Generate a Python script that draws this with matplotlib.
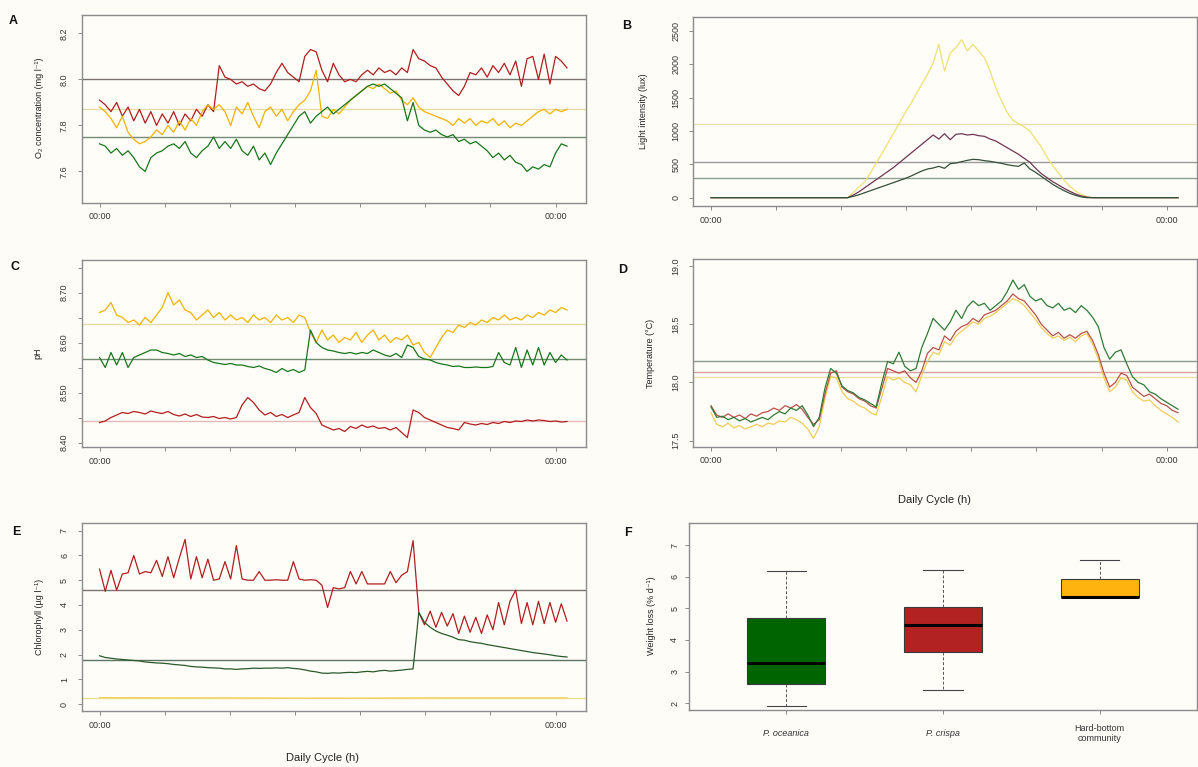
import numpy as np
import matplotlib
matplotlib.use("Agg")
import matplotlib.pyplot as plt

plt.rcParams['font.family'] = ['Liberation Sans', 'DejaVu Sans']

# sampling times (h) shared by the logger series
hours = np.round(np.arange(83) * 0.3, 1)

# A: dissolved oxygen (mg l-1)
o2_crispa = [7.91, 7.89, 7.86, 7.90, 7.84, 7.88, 7.82, 7.87, 7.81, 7.86, 7.80, 7.85, 7.81, 7.86, 7.80, 7.85,
             7.82, 7.87, 7.84, 7.89, 7.86, 8.06, 8.01, 8.00, 7.98, 7.99, 7.97, 7.98, 7.96, 7.95, 7.98, 8.03,
             8.07, 8.03, 8.01, 7.99, 8.10, 8.13, 8.12, 8.04, 7.99, 8.07, 8.02, 7.99, 8.00, 7.99, 8.02, 8.04,
             8.02, 8.05, 8.03, 8.04, 8.02, 8.05, 8.03, 8.13, 8.09, 8.08, 8.06, 8.05, 8.01, 7.98, 7.95, 7.93,
             7.97, 8.03, 8.02, 8.05, 8.01, 8.06, 8.03, 8.07, 8.02, 8.08, 7.97, 8.09, 8.10, 8.00, 8.11, 7.98,
             8.10, 8.08, 8.05]
o2_hard = [7.88, 7.86, 7.83, 7.79, 7.84, 7.77, 7.74, 7.72, 7.73, 7.75, 7.78, 7.76, 7.80, 7.77, 7.82, 7.78,
           7.83, 7.80, 7.86, 7.89, 7.87, 7.89, 7.86, 7.80, 7.88, 7.85, 7.90, 7.84, 7.79, 7.86, 7.88, 7.84,
           7.87, 7.82, 7.86, 7.89, 7.91, 7.95, 8.04, 7.84, 7.83, 7.87, 7.85, 7.88, 7.91, 7.93, 7.95, 7.97,
           7.96, 7.98, 7.96, 7.94, 7.95, 7.91, 7.89, 7.92, 7.88, 7.86, 7.85, 7.84, 7.83, 7.82, 7.80, 7.83,
           7.81, 7.83, 7.80, 7.82, 7.81, 7.83, 7.80, 7.82, 7.79, 7.81, 7.80, 7.82, 7.84, 7.86, 7.87, 7.85,
           7.87, 7.86, 7.87]
o2_oceanica = [7.72, 7.71, 7.68, 7.70, 7.67, 7.69, 7.66, 7.62, 7.60, 7.66, 7.68, 7.69, 7.71, 7.72, 7.70, 7.73,
               7.68, 7.66, 7.69, 7.71, 7.75, 7.70, 7.73, 7.70, 7.74, 7.69, 7.67, 7.71, 7.65, 7.68, 7.63, 7.68,
               7.72, 7.76, 7.80, 7.84, 7.86, 7.81, 7.84, 7.86, 7.88, 7.85, 7.87, 7.89, 7.91, 7.93, 7.95, 7.97,
               7.98, 7.97, 7.98, 7.96, 7.94, 7.92, 7.82, 7.90, 7.80, 7.78, 7.77, 7.78, 7.76, 7.75, 7.76, 7.73,
               7.74, 7.72, 7.73, 7.71, 7.69, 7.66, 7.68, 7.65, 7.67, 7.64, 7.63, 7.60, 7.62, 7.61, 7.63, 7.62,
               7.68, 7.72, 7.71]
o2_means = [8.00, 7.87, 7.75]

# B: light intensity (lux)
lux_hard = [0] * 25 + [80, 160, 240, 370, 520, 660, 810, 960, 1110, 1260, 1400, 1550, 1700, 1850, 2020, 2300,
                       1900, 2170, 2250, 2370, 2200, 2300, 2200, 2100, 1900, 1650, 1450, 1280, 1160, 1110, 1060,
                       1000, 880, 760, 610, 480, 370, 260, 170, 100, 50, 15] + [0] * 16
lux_crispa = [0] * 25 + [40, 90, 150, 210, 270, 330, 390, 450, 520, 590, 660, 730, 800, 870, 940, 880, 960, 870,
                         950, 960, 940, 950, 930, 920, 880, 850, 800, 750, 700, 650, 590, 530, 440, 360, 300,
                         240, 190, 140, 95, 55, 25, 8] + [0] * 16
lux_oceanica = [0] * 25 + [20, 45, 75, 105, 135, 165, 195, 225, 255, 285, 320, 360, 400, 430, 445, 470, 440, 510,
                           520, 540, 560, 575, 570, 555, 545, 530, 515, 495, 480, 470, 520, 430, 380, 320, 260,
                           200, 150, 105, 65, 35, 12] + [0] * 17
lux_means = [1105, 535, 300]

# C: pH
ph_hard = [8.660, 8.665, 8.680, 8.655, 8.650, 8.640, 8.645, 8.635, 8.650, 8.640, 8.655, 8.670, 8.700, 8.675,
           8.685, 8.665, 8.660, 8.645, 8.655, 8.665, 8.650, 8.660, 8.645, 8.655, 8.645, 8.650, 8.640, 8.655,
           8.645, 8.650, 8.640, 8.655, 8.645, 8.650, 8.640, 8.655, 8.650, 8.620, 8.600, 8.625, 8.605, 8.615,
           8.600, 8.610, 8.605, 8.620, 8.600, 8.615, 8.625, 8.605, 8.615, 8.600, 8.610, 8.605, 8.615, 8.595,
           8.600, 8.580, 8.570, 8.590, 8.610, 8.625, 8.620, 8.635, 8.630, 8.640, 8.635, 8.645, 8.640, 8.650,
           8.645, 8.655, 8.645, 8.650, 8.645, 8.655, 8.650, 8.660, 8.655, 8.665, 8.660, 8.670, 8.665]
ph_oceanica = [8.570, 8.550, 8.580, 8.555, 8.580, 8.550, 8.570, 8.575, 8.580, 8.585, 8.585, 8.580, 8.578, 8.575,
               8.578, 8.572, 8.575, 8.570, 8.572, 8.565, 8.560, 8.558, 8.556, 8.558, 8.555, 8.555, 8.552, 8.550,
               8.553, 8.548, 8.545, 8.540, 8.548, 8.542, 8.546, 8.540, 8.545, 8.625, 8.600, 8.590, 8.585, 8.583,
               8.580, 8.578, 8.580, 8.577, 8.580, 8.578, 8.585, 8.580, 8.575, 8.572, 8.578, 8.570, 8.595, 8.590,
               8.572, 8.567, 8.565, 8.560, 8.557, 8.555, 8.552, 8.553, 8.550, 8.550, 8.551, 8.550, 8.550, 8.552,
               8.580, 8.560, 8.555, 8.590, 8.550, 8.585, 8.555, 8.590, 8.555, 8.580, 8.560, 8.575, 8.565]
ph_crispa = [8.440, 8.443, 8.450, 8.455, 8.460, 8.458, 8.462, 8.460, 8.457, 8.463, 8.460, 8.458, 8.462, 8.456,
             8.453, 8.457, 8.452, 8.456, 8.451, 8.450, 8.452, 8.448, 8.450, 8.447, 8.450, 8.475, 8.490, 8.480,
             8.465, 8.455, 8.460, 8.452, 8.456, 8.450, 8.455, 8.460, 8.490, 8.470, 8.458, 8.435, 8.430, 8.425,
             8.428, 8.422, 8.432, 8.428, 8.435, 8.430, 8.433, 8.428, 8.430, 8.425, 8.430, 8.420, 8.410, 8.465,
             8.460, 8.450, 8.445, 8.440, 8.435, 8.430, 8.428, 8.425, 8.440, 8.437, 8.435, 8.438, 8.436, 8.440,
             8.438, 8.442, 8.440, 8.443, 8.442, 8.445, 8.443, 8.445, 8.444, 8.442, 8.443, 8.441, 8.442]
ph_means = [8.443, 8.638, 8.568]

# D: temperature (deg C)
temp_crispa = [17.80, 17.72, 17.70, 17.73, 17.70, 17.72, 17.69, 17.73, 17.71, 17.74, 17.75, 17.78, 17.76, 17.80,
               17.78, 17.81, 17.77, 17.70, 17.64, 17.68, 17.90, 18.08, 18.10, 17.96, 17.92, 17.90, 17.86, 17.84,
               17.80, 17.78, 17.95, 18.12, 18.10, 18.08, 18.10, 18.04, 18.00, 18.10, 18.25, 18.30, 18.28, 18.40,
               18.36, 18.44, 18.48, 18.50, 18.55, 18.52, 18.58, 18.60, 18.62, 18.66, 18.70, 18.76, 18.72, 18.70,
               18.64, 18.58, 18.50, 18.45, 18.40, 18.43, 18.38, 18.41, 18.38, 18.42, 18.44, 18.36, 18.24, 18.08,
               17.96, 18.00, 18.08, 18.06, 17.96, 17.92, 17.88, 17.90, 17.86, 17.82, 17.80, 17.76, 17.74]
temp_oceanica = [17.79, 17.70, 17.71, 17.68, 17.70, 17.67, 17.69, 17.66, 17.68, 17.70, 17.68, 17.72, 17.75, 17.73,
                 17.78, 17.76, 17.80, 17.72, 17.62, 17.70, 17.95, 18.12, 18.08, 17.97, 17.93, 17.91, 17.87, 17.85,
                 17.82, 17.79, 18.00, 18.18, 18.16, 18.26, 18.14, 18.10, 18.12, 18.30, 18.42, 18.55, 18.50, 18.45,
                 18.52, 18.62, 18.55, 18.65, 18.70, 18.66, 18.68, 18.62, 18.66, 18.70, 18.78, 18.88, 18.80, 18.84,
                 18.74, 18.70, 18.72, 18.66, 18.64, 18.68, 18.62, 18.64, 18.60, 18.66, 18.62, 18.56, 18.48, 18.30,
                 18.20, 18.26, 18.28, 18.16, 18.05, 18.00, 17.98, 17.92, 17.90, 17.86, 17.83, 17.80, 17.77]
temp_hard = [17.74, 17.64, 17.62, 17.65, 17.61, 17.63, 17.60, 17.62, 17.64, 17.62, 17.65, 17.64, 17.67, 17.66,
             17.70, 17.68, 17.65, 17.60, 17.52, 17.62, 17.86, 18.05, 18.04, 17.92, 17.86, 17.84, 17.80, 17.78,
             17.74, 17.72, 17.88, 18.05, 18.02, 18.04, 18.00, 17.98, 17.92, 18.06, 18.18, 18.26, 18.24, 18.35,
             18.32, 18.40, 18.44, 18.48, 18.52, 18.50, 18.55, 18.57, 18.60, 18.64, 18.68, 18.72, 18.70, 18.66,
             18.60, 18.54, 18.47, 18.42, 18.38, 18.40, 18.36, 18.39, 18.35, 18.40, 18.42, 18.33, 18.20, 18.04,
             17.92, 17.96, 18.04, 18.02, 17.92, 17.87, 17.84, 17.85, 17.80, 17.76, 17.73, 17.70, 17.66]
temp_means = [18.086, 18.05, 18.186]

# E: chlorophyll (ug l-1)
chl_crispa = [5.45, 4.55, 5.40, 4.60, 5.25, 5.30, 6.00, 5.25, 5.35, 5.30, 5.80, 5.15, 5.95, 5.10, 5.90, 6.65,
              5.05, 5.95, 5.10, 5.85, 5.00, 5.05, 5.75, 5.05, 6.40, 5.05, 5.00, 5.00, 5.35, 5.00, 5.00, 5.02,
              5.00, 5.00, 5.75, 5.05, 5.00, 5.02, 5.00, 4.80, 3.90, 4.70, 4.65, 4.70, 5.35, 4.85, 5.35, 4.85,
              4.85, 4.85, 4.85, 5.35, 4.90, 5.20, 5.35, 6.60, 3.70, 3.20, 3.75, 3.10, 3.70, 3.15, 3.65, 2.85,
              3.55, 2.90, 3.50, 2.85, 3.60, 3.00, 4.10, 3.20, 4.15, 4.60, 3.25, 4.10, 3.20, 4.15, 3.25, 4.10,
              3.30, 4.05, 3.35]
chl_oceanica = [1.95, 1.88, 1.85, 1.82, 1.80, 1.78, 1.76, 1.74, 1.70, 1.68, 1.66, 1.65, 1.63, 1.60, 1.58, 1.56,
                1.52, 1.50, 1.49, 1.47, 1.46, 1.45, 1.42, 1.42, 1.40, 1.42, 1.43, 1.45, 1.44, 1.45, 1.45, 1.46,
                1.45, 1.47, 1.44, 1.42, 1.38, 1.33, 1.30, 1.25, 1.24, 1.26, 1.25, 1.27, 1.28, 1.27, 1.30, 1.32,
                1.30, 1.34, 1.36, 1.33, 1.35, 1.37, 1.40, 1.42, 3.70, 3.30, 3.10, 2.95, 2.85, 2.78, 2.70, 2.60,
                2.58, 2.52, 2.48, 2.45, 2.40, 2.36, 2.32, 2.28, 2.24, 2.20, 2.16, 2.12, 2.08, 2.05, 2.02, 1.99,
                1.95, 1.92, 1.90]
chl_hard_hours = [0.0, 6.0, 12.0, 18.0, 24.6]
chl_hard = [0.26, 0.25, 0.24, 0.25, 0.25]
chl_means = [4.60, 0.25, 1.78]

# F: weight loss (% d-1)
species = ['P. oceanica', 'P. crispa', 'Hard-bottom\ncommunity']
weight_whislo = [1.91, 2.41, 5.35]
weight_q1 = [2.60, 3.61, 5.35]
weight_med = [3.26, 4.46, 5.36]
weight_q3 = [4.71, 5.05, 5.94]
weight_whishi = [6.18, 6.23, 6.53]

# colours
RED, GOLD, GREEN = '#b01e1e', '#f2b200', '#17761a'
MEAN_RED, MEAN_GOLD, MEAN_GREEN = '#8a7676', '#e6dcaa', '#7f9a82'
FRAME = '#8c8c8c'
BG = '#fffdf8'

fig = plt.figure(figsize=(11.98, 7.67), dpi=100, facecolor='#fdfcf6')
W, H = 1198.0, 767.0


def make_axes(x0, y0, x1, y1):
    ax = fig.add_axes([x0 / W, 1 - y1 / H, (x1 - x0) / W, (y1 - y0) / H])
    ax.set_facecolor(BG)
    for s in ax.spines.values():
        s.set_color(FRAME)
        s.set_linewidth(1.0)
    ax.tick_params(direction='out', length=3, width=0.7, color=FRAME,
                   labelsize=6.5, labelcolor='#333333')
    return ax


def time_axis(ax):
    ticks = np.linspace(0, 24, 8)
    ax.set_xticks(ticks)
    ax.set_xticklabels(['00:00'] + [''] * 6 + ['00:00'])
    ax.set_xlim(-0.95, 25.6)
    ax.tick_params(axis='x', pad=4)


def y_axis(ax, ticks, labels, lim):
    ax.set_yticks(ticks)
    ax.set_yticklabels(labels, rotation=90, va='center')
    ax.set_ylim(*lim)
    ax.tick_params(axis='y', pad=6)


def means(ax, vals, cols):
    for v, c in zip(vals, cols):
        ax.axhline(v, color=c, lw=1.0, zorder=1)


# ---- A ----
axA = make_axes(81.5, 15, 586, 202.5)
means(axA, o2_means, ['#7c7474', MEAN_GOLD, '#728a76'])
axA.plot(hours, o2_crispa, color=RED, lw=0.9, zorder=3)
axA.plot(hours, o2_hard, color=GOLD, lw=0.9, zorder=3)
axA.plot(hours, o2_oceanica, color=GREEN, lw=0.9, zorder=3)
time_axis(axA)
y_axis(axA, [7.6, 7.8, 8.0, 8.2], ['7.6', '7.8', '8.0', '8.2'], (7.465, 8.28))

# ---- B ----
axB = make_axes(693, 16.7, 1197, 206)
means(axB, lux_means, ['#e8e2b0', '#9a9a9a', '#8ea090'])
axB.plot(hours, lux_hard, color='#f0e070', lw=0.9, zorder=3)
axB.plot(hours, lux_crispa, color='#6e3552', lw=0.9, zorder=3)
axB.plot(hours, lux_oceanica, color='#34503a', lw=0.9, zorder=3)
time_axis(axB)
y_axis(axB, [0, 500, 1000, 1500, 2000, 2500], ['0', '500', '1000', '1500', '2000', '2500'], (-125, 2715))

# ---- C ----
axC = make_axes(81.5, 260, 586, 447)
means(axC, ph_means, ['#e2b8b8', MEAN_GOLD, '#6f8a72'])
axC.plot(hours, ph_hard, color=GOLD, lw=0.9, zorder=3)
axC.plot(hours, ph_oceanica, color=GREEN, lw=0.9, zorder=3)
axC.plot(hours, ph_crispa, color=RED, lw=0.9, zorder=3)
time_axis(axC)
y_axis(axC, [8.40, 8.45, 8.50, 8.55, 8.60, 8.65, 8.70, 8.75],
       ['8.40', '', '8.50', '', '8.60', '', '8.70', ''], (8.391, 8.765))

# ---- D ----
axD = make_axes(693, 259.3, 1197, 446.7)
means(axD, temp_means, ['#d9a0a0', '#ece0a8', '#8a9c8c'])
axD.plot(hours, temp_hard, color='#f0cc58', lw=0.9, zorder=3)
axD.plot(hours, temp_crispa, color='#b8524a', lw=0.9, zorder=3)
axD.plot(hours, temp_oceanica, color='#2f7a36', lw=0.9, zorder=3)
time_axis(axD)
y_axis(axD, [17.5, 18.0, 18.5, 19.0], ['17.5', '18.0', '18.5', '19.0'], (17.448, 19.058))

# ---- E ----
axE = make_axes(81.5, 523, 586, 711)
means(axE, chl_means, ['#7a7272', '#ece08c', '#5e7462'])
axE.plot(hours, chl_crispa, color=RED, lw=0.9, zorder=3)
axE.plot(hours, chl_oceanica, color='#2a5a2c', lw=0.9, zorder=3)
axE.plot(chl_hard_hours, chl_hard, color='#f0d060', lw=0.9, zorder=3)
time_axis(axE)
y_axis(axE, list(range(8)), [str(v) for v in range(8)], (-0.28, 7.31))

# ---- F ----
axF = make_axes(689, 522.7, 1197, 710)
stats = []
for i in range(3):
    stats.append(dict(whislo=weight_whislo[i], q1=weight_q1[i], med=weight_med[i],
                      q3=weight_q3[i], whishi=weight_whishi[i], fliers=[]))
bp = axF.bxp(stats, positions=[1, 2, 3], widths=0.5, patch_artist=True, showfliers=False,
             boxprops=dict(linewidth=0.8, edgecolor='#3a3a3a'),
             medianprops=dict(color='black', linewidth=2.2),
             whiskerprops=dict(color='#555555', linewidth=0.7, linestyle=(0, (3, 2))),
             capprops=dict(color='#444444', linewidth=0.8), capwidths=0.25)
for patch, col in zip(bp['boxes'], ['#006400', '#b22222', '#ffb30f']):
    patch.set_facecolor(col)
axF.set_xlim(0.38, 3.62)
axF.set_xticks([1, 2, 3])
axF.set_xticklabels(species, fontsize=6.5)
for lab, style in zip(axF.get_xticklabels(), ['italic', 'italic', 'normal']):
    lab.set_fontstyle(style)
    lab.set_verticalalignment('center')
axF.tick_params(axis='x', pad=14)
y_axis(axF, [2, 3, 4, 5, 6, 7], ['2', '3', '4', '5', '6', '7'], (1.78, 7.72))
axF.tick_params(axis='y', pad=4)

# labels
ylab = dict(rotation=90, ha='center', va='center', fontsize=6.5, color='#222222')
fig.text(40 / W, 1 - 108 / H, 'O\u2082 concentration (mg l\u207b\u00b9)', **ylab)
fig.text(643 / W, 1 - 111 / H, 'Light intensity (lux)', **ylab)
fig.text(38 / W, 1 - 353 / H, 'pH', **ylab)
fig.text(650 / W, 1 - 353 / H, 'Temperature (\u00b0C)', **ylab)
fig.text(40 / W, 1 - 617 / H, 'Chlorophyll (\u00b5g l\u207b\u00b9)', **ylab)
fig.text(652 / W, 1 - 616 / H, 'Weight loss (% d\u207b\u00b9)', **ylab)

fig.text(935 / W, 1 - 500 / H, 'Daily Cycle (h)', ha='center', va='center', fontsize=8, color='#222222')
fig.text(322 / W, 1 - 758 / H, 'Daily Cycle (h)', ha='center', va='center', fontsize=8, color='#222222')

for letter, x, y in [('A', 13, 21), ('B', 627, 26), ('C', 15, 267), ('D', 623, 270), ('E', 16, 532), ('F', 628, 533)]:
    fig.text(x / W, 1 - y / H, letter, ha='center', va='center', fontsize=9, fontweight='bold', color='#111111')

fig.savefig('out.png', dpi=100, facecolor=fig.get_facecolor())
